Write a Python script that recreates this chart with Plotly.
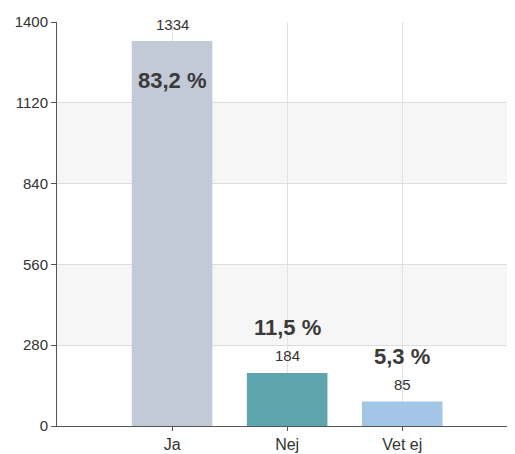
import plotly.graph_objects as go

categories = ["Ja", "Nej", "Vet ej"]
counts = [1334, 184, 85]
percent_labels = ["83,2 %", "11,5 %", "5,3 %"]
bar_colors = ["#c2c9d7", "#5ea4af", "#a3c5e6"]
y_ticks = [0, 280, 560, 840, 1120, 1400]

fig = go.Figure(go.Bar(
    x=list(range(len(categories))),
    y=counts,
    width=0.7,
    marker=dict(color=bar_colors, line=dict(width=0)),
    hoverinfo="skip",
))

# alternating bands between gridlines
for lo, hi in [(280, 560), (840, 1120)]:
    fig.add_shape(type="rect", xref="paper", yref="y", x0=0, x1=1, y0=lo, y1=hi,
                  fillcolor="#f6f6f6", line=dict(width=0), layer="below")

for i, (c, p) in enumerate(zip(counts, percent_labels)):
    fig.add_annotation(x=i, y=c, text=str(c), showarrow=False, yanchor="middle",
                       yshift=17, font=dict(size=15, color="#333333"))
    inside = c > 1100
    fig.add_annotation(x=i, y=c, text="<b>%s</b>" % p, showarrow=False,
                       yanchor="middle", yshift=-39 if inside else 45,
                       font=dict(size=22, color="#3a3a3a"))

# page body has an 8px margin, so the figure is a bit smaller than the window
fig.update_layout(
    width=507, height=446,
    margin=dict(l=49, r=0, t=14, b=28),
    paper_bgcolor="white", plot_bgcolor="white",
    font=dict(family="Liberation Sans, Arial, sans-serif", color="#333333"),
    showlegend=False,
    bargap=0.3,
)
fig.update_xaxes(
    range=[-1, 2.98],
    tickvals=list(range(len(categories))), ticktext=categories,
    showgrid=True, gridcolor="#e2e2e2", gridwidth=1,
    showline=True, linecolor="#555555", linewidth=1,
    ticks="outside", ticklen=4, tickcolor="#555555",
    tickfont=dict(size=16, color="#333333"),
    zeroline=False, fixedrange=True,
)
fig.update_yaxes(
    range=[0, 1400], tickvals=y_ticks,
    showgrid=True, gridcolor="#dddddd", gridwidth=1,
    showline=True, linecolor="#555555", linewidth=1,
    ticks="outside", ticklen=5, tickcolor="#555555",
    tickfont=dict(size=15, color="#333333"),
    zeroline=False, fixedrange=True,
)

fig.write_html("out.html")
